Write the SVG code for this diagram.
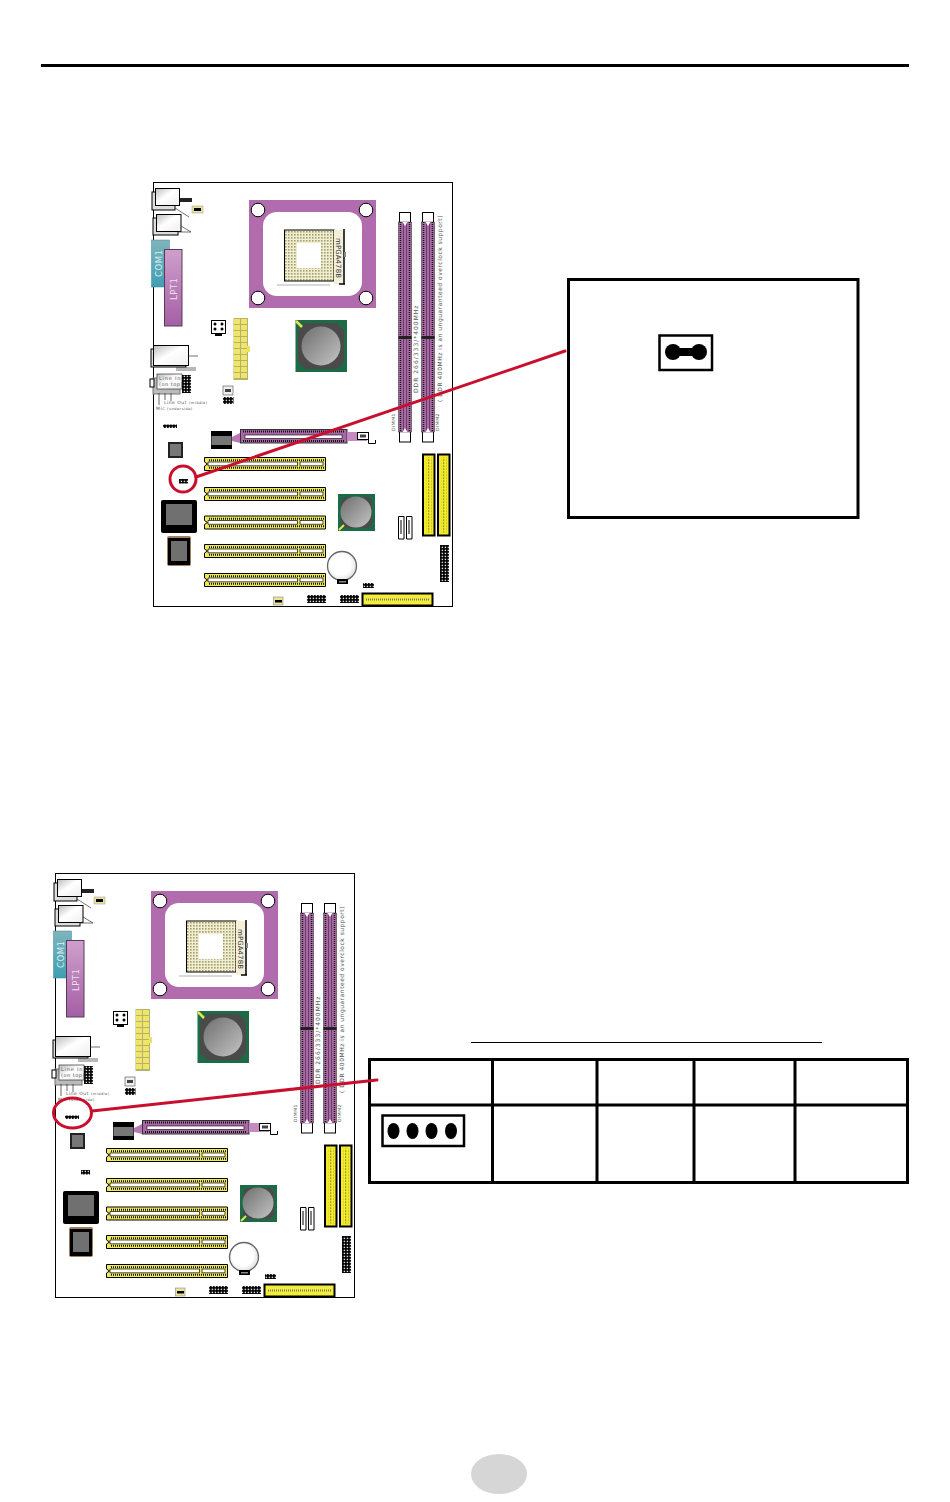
<svg xmlns="http://www.w3.org/2000/svg" width="950" height="1502" viewBox="0 0 950 1502">
<style>
.k{fill:#000}
.o{stroke:#000;stroke-width:1}
.w{fill:#fff}
.t{font-family:"DejaVu Sans",sans-serif;fill:#555;letter-spacing:.5px}
.pin{fill:none;stroke:#111;stroke-dasharray:1 1}
.red{fill:none;stroke:#c8102e;stroke-linecap:round}
.tb{fill:none;stroke:#000;stroke-width:3}
</style>
<defs>
<linearGradient id="com" x1="0" y1="0" x2="0" y2="1"><stop offset="0" stop-color="#7fb4bd"/><stop offset="1" stop-color="#3f9fb3"/></linearGradient>
<linearGradient id="lpt" x1="0" y1="0" x2="0" y2="1"><stop offset="0" stop-color="#cfa0cc"/><stop offset="1" stop-color="#a45fa4"/></linearGradient>
<linearGradient id="port" x1="0" y1="0" x2="1" y2="1"><stop offset="0" stop-color="#bbb"/><stop offset=".45" stop-color="#fff"/><stop offset="1" stop-color="#eee"/></linearGradient>
<linearGradient id="die" x1="0" y1="0" x2="1" y2="1"><stop offset="0" stop-color="#6e6e6e"/><stop offset="1" stop-color="#c4c4c4"/></linearGradient>
<radialGradient id="bat" cx=".45" cy=".45" r=".6"><stop offset=".6" stop-color="#fff"/><stop offset="1" stop-color="#d8d8d8"/></radialGradient>
<pattern id="pins" width="3" height="3" patternUnits="userSpaceOnUse"><rect width="3" height="3" fill="#f1edd0"/><rect width="1.6" height="1.6" fill="#a39f6e"/></pattern>
<pattern id="idep" width="3" height="3" patternUnits="userSpaceOnUse"><rect width="3" height="3" fill="#f5ee2c"/><rect width="1.300" height="1.300" fill="#77721c"/></pattern>
<pattern id="hdr" width="3" height="3" patternUnits="userSpaceOnUse"><rect width="3" height="3" fill="#000"/><rect x=".7" y=".7" width="1.4" height="1.4" fill="#ddd"/></pattern>

<g id="pci">
<path d="M.5.5H121.5V13.5H.5V9L3.5 7 .5 5Z" fill="#efe95a" stroke="#000"/>
<path class="pin" d="M5 3.2H120M5 10.8H120" stroke-width="2"/>
<path d="M4 5H93.5V8.800H4ZM96 5H119V8.800H96Z" fill="#fff" stroke="#000" stroke-width=".7"/>
</g>

<g id="dimm">
<rect x=".5" y=".5" width="11" height="229.5" class="w o"/>
<rect x="-.5" y="10" width="13" height="210" fill="#a76aa3" stroke="#222" stroke-width=".5"/>
<path d="M1.5 10V220M10.5 10V220" stroke="#111" stroke-width="1.5" stroke-dasharray="1 1"/>
<path d="M4.5 10V220M7.500 10V220" stroke="#6b3a6b" stroke-width="1"/>
<path d="M3.500 10 L6 14 8.500 10ZM3.500 220 L6 216 8.500 220Z" class="w"/>
<rect x="-.5" y="124" width="13" height="3" fill="#222"/>
</g>

<g id="ide">
<rect x="1" y="1" width="11.500" height="81" fill="#f2ea2b" stroke="#000" stroke-width="2"/>
<rect x="4" y="4" width="5.500" height="75" fill="url(#idep)"/>
</g>

<g id="board-art">
<rect x="153.500" y="182.500" width="299" height="424" fill="#fff" stroke="#000"/>
<rect x="152" y="192" width="23" height="18" fill="#ddd" stroke="#000"/>
<rect x="155.500" y="188.500" width="24" height="17" fill="url(#port)" stroke="#000"/>
<rect x="180" y="198" width="12" height="4" fill="#222"/>
<path d="M175 208L189 217" stroke="#333" stroke-width=".7"/>
<rect x="192" y="206" width="11" height="7" fill="#e8e29a" stroke="#999" stroke-width=".5"/>
<rect x="194" y="208" width="7" height="3" class="k"/>
<rect x="153" y="218" width="25" height="17" fill="#ddd" stroke="#000"/>
<rect x="156.500" y="214.500" width="24.500" height="17" fill="url(#port)" stroke="#000"/>
<path d="M178 232H191M181 226L191 232" stroke="#333" stroke-width=".7"/>
<rect x="151.500" y="240" width="18" height="47" fill="url(#com)" stroke="#3d8797" stroke-width=".5"/>
<rect x="164.500" y="249.500" width="17.500" height="76.500" fill="url(#lpt)" stroke="#5a3a5a"/>
<rect x="151" y="349" width="35" height="18" fill="#ddd" stroke="#000"/>
<rect x="153.500" y="345.500" width="35" height="20" fill="url(#port)" stroke="#000"/>
<path d="M188 356H198M176 368H196M176 370H196" stroke="#333" stroke-width=".7"/>
<rect x="153" y="378" width="27" height="16" fill="#bbb" stroke="#777"/>
<rect x="157" y="374" width="25" height="15" fill="url(#port)" stroke="#333" stroke-width=".7"/>
<rect x="150" y="379" width="4" height="8" fill="#fff" stroke="#000"/>
<rect x="182" y="375" width="9" height="18" fill="url(#hdr)"/>
<path d="M159 393V405M171 393V401M165 393V400" stroke="#222" stroke-width=".7"/>
<rect x="249" y="200" width="127" height="108" fill="#b06cad"/>
<rect x="263" y="212" width="99" height="84" rx="14" class="w"/>
<circle cx="258" cy="210" r="6.800" class="w o"/><circle cx="366" cy="210" r="6.800" class="w o"/>
<circle cx="258" cy="298" r="6.800" class="w o"/><circle cx="366" cy="298" r="6.800" class="w o"/>
<rect x="284.500" y="230" width="49.500" height="51" fill="url(#pins)" stroke="#000"/>
<rect x="297" y="243" width="24" height="25" class="w"/>
<path d="M334 230H344V284H334Z" fill="#f3efd8"/>
<path d="M344 229V284M339 284H345" stroke="#000" stroke-width="1.500"/>
<rect x="344" y="252" width="2" height="5" fill="#888"/>
<path d="M277 285H330" stroke="#ccc" stroke-width="1.500"/>
<rect x="295.500" y="320" width="51.500" height="52" fill="#1d6b46"/>
<path d="M305 323H337L344 331V362L337 369H305L298 362V331Z" fill="#4a4a4a"/>
<circle cx="321" cy="346" r="19.500" fill="url(#die)"/>
<path d="M296 321L302 327" stroke="#e6e64a" stroke-width="2.500"/>
<rect x="211.500" y="320.500" width="14" height="13" class="w o"/>
<rect x="215" y="334" width="7" height="2" class="k"/>
<g class="k"><circle cx="215" cy="324" r="1.500"/><circle cx="222" cy="324" r="1.500"/><circle cx="215" cy="329" r="1.500"/><circle cx="222" cy="329" r="1.500"/></g>
<rect x="233.500" y="318" width="14.500" height="62" fill="#b5b26e"/>
<path d="M234 319h6v5h-6zm7 0h6v5h-6zM234 325h6v5h-6zm7 0h6v5h-6zM234 331h6v5h-6zm7 0h6v5h-6zM234 337h6v5h-6zm7 0h6v5h-6zM234 343h6v5h-6zm7 0h6v5h-6zM234 349h6v5h-6zm7 0h6v5h-6zM234 355h6v5h-6zm7 0h6v5h-6zM234 361h6v5h-6zm7 0h6v5h-6zM234 367h6v5h-6zm7 0h6v5h-6zM234 373h6v5h-6zm7 0h6v5h-6z" fill="#eee56a"/>
<rect x="247" y="346" width="3" height="6" fill="#eee25a"/>
<rect x="223" y="386" width="10" height="9" fill="#eee" stroke="#666" stroke-width=".7"/>
<rect x="225" y="389" width="6" height="3" fill="#444"/>
<rect x="223" y="397" width="10.500" height="7" fill="url(#hdr)"/>
<use href="#dimm" x="399" y="212"/>
<use href="#dimm" x="422" y="212"/>
<rect x="163" y="424.500" width="14" height="3.500" fill="url(#hdr)"/>
<rect x="168" y="442" width="15" height="16" fill="#222"/>
<rect x="170" y="444" width="11" height="12" fill="#777"/>
<rect x="211" y="431" width="21" height="18" class="k"/>
<rect x="211.500" y="436" width="20" height="9" fill="#777"/>
<path d="M232 437L240 433V443L232 441Z" fill="#b878b2"/>
<rect x="240.500" y="429.500" width="106.500" height="13.500" fill="#a967a5" stroke="#333"/>
<path d="M243 431.500H345M243 441H345" fill="none" stroke="#111" stroke-dasharray="1 1" stroke-width="2"/>
<rect x="245" y="435" width="97" height="3.500" fill="#fff" stroke="#000" stroke-width=".6"/>
<rect x="347" y="432" width="20" height="9" fill="#c28cbf"/>
<rect x="357.500" y="432.500" width="11" height="7" class="w o"/>
<rect x="360" y="434.500" width="6" height="3" fill="#444"/>
<path d="M368.500 432V443.500H375.500V440" fill="#fff" stroke="#000"/>
<use href="#pci" x="204" y="457"/>
<use href="#pci" x="204" y="487"/>
<use href="#pci" x="204" y="515.500"/>
<use href="#pci" x="204" y="544"/>
<use href="#pci" x="204" y="573"/>
<rect x="161" y="500" width="36" height="33" rx="2" class="k"/>
<rect x="166" y="504" width="26" height="21" fill="#707070"/>
<rect x="167" y="536" width="24" height="30" rx="2" fill="#a08060"/>
<rect x="168" y="538" width="22" height="27" class="k"/>
<rect x="171" y="541" width="16" height="20" fill="#707070"/>
<rect x="338" y="494" width="37" height="37" fill="#1d6b46"/>
<path d="M345 497H368L372 501V524L368 528H345L341 524V501Z" fill="#4a4a4a"/>
<circle cx="356" cy="512" r="15.500" fill="url(#die)"/>
<path d="M339 530L344 525" stroke="#e6e64a" stroke-width="2"/>
<path d="M398.500 516.500h5.500v22.500h-5.500zM406.500 516.500h5.500v22.500h-5.500z" class="w o"/>
<path d="M401 520v14M409 520v14" stroke="#000"/>
<use href="#ide" x="422" y="453.500"/>
<use href="#ide" x="437" y="453.500"/>
<rect x="440" y="545" width="9" height="37" fill="url(#hdr)"/>
<circle cx="342" cy="566" r="14.500" fill="url(#bat)" stroke="#666" stroke-width="1.300"/>
<rect x="337" y="579" width="11" height="5" class="k"/>
<rect x="339" y="581" width="7" height="1.500" fill="#888"/>
<rect x="363" y="583" width="11" height="5" fill="url(#hdr)"/>
<rect x="362.500" y="593.500" width="70" height="12" fill="#f3ee3c" stroke="#000" stroke-width="2"/>
<path d="M366 599.500H429" fill="none" stroke="#777" stroke-dasharray="1 1" stroke-width="2"/>
<rect x="307" y="595" width="19" height="8" fill="url(#hdr)"/>
<rect x="340" y="595" width="19" height="8" fill="url(#hdr)"/>
<rect x="273.500" y="597" width="9.500" height="8" fill="#e8e29a" stroke="#777" stroke-width=".5"/>
<rect x="275" y="600" width="7" height="2.500" class="k"/>
</g>
</defs>

<rect x="41" y="64" width="868" height="3" class="k"/>

<g id="board-top">
<use href="#board-art"/>
<text class="t" transform="translate(161.500 277) rotate(-90)" font-size="8.500" style="fill:#d8eef2">COM1</text>
<text class="t" transform="translate(176.500 300) rotate(-90)" font-size="8.500" style="fill:#f1dff0">LPT1</text>
<text class="t" transform="translate(335.500 238) rotate(90)" font-size="7" textLength="40" style="fill:#333;letter-spacing:0">mPGA478B</text>
<text class="t" x="159" y="380" font-size="5" style="letter-spacing:.8px">Line In</text>
<text class="t" x="159" y="386" font-size="5">(on top)</text>
<text class="t" x="164" y="404" font-size="4.500">Line Out <tspan font-size="3.500">(middle)</tspan></text>
<text class="t" x="156" y="410" font-size="4.500">Mic <tspan font-size="3.500">(underside)</tspan></text>
<text class="t" transform="translate(418 393) rotate(-90)" font-size="6" textLength="88">DDR 266/333/*400MHz</text>
<text class="t" transform="translate(442 402) rotate(-90)" font-size="6" textLength="187">( DDR 400MHz is an unguaranteed overclock support)</text>
<text class="t" transform="translate(395 431) rotate(-90)" font-size="4.500">DIMM1</text>
<text class="t" transform="translate(439 431) rotate(-90)" font-size="4.500">DIMM2</text>
<rect x="179" y="479" width="9" height="4.500" fill="url(#hdr)"/>
</g>

<g id="board-bottom">
<use href="#board-art" x="-98" y="691"/>
<text class="t" transform="translate(63.500 968) rotate(-90)" font-size="8.500" style="fill:#d8eef2">COM1</text>
<text class="t" transform="translate(78.500 991) rotate(-90)" font-size="8.500" style="fill:#f1dff0">LPT1</text>
<text class="t" transform="translate(237.500 929) rotate(90)" font-size="7" textLength="40" style="fill:#333;letter-spacing:0">mPGA478B</text>
<text class="t" x="61" y="1071" font-size="5" style="letter-spacing:.8px">Line In</text>
<text class="t" x="61" y="1077" font-size="5">(on top)</text>
<text class="t" x="66" y="1095" font-size="4.500">Line Out <tspan font-size="3.500">(middle)</tspan></text>
<text class="t" x="58" y="1101" font-size="4.500">Mic <tspan font-size="3.500">(underside)</tspan></text>
<text class="t" transform="translate(320 1084) rotate(-90)" font-size="6" textLength="88">DDR 266/333/*400MHz</text>
<text class="t" transform="translate(344 1093) rotate(-90)" font-size="6" textLength="187">( DDR 400MHz is an unguaranteed overclock support)</text>
<text class="t" transform="translate(297 1122) rotate(-90)" font-size="4.500">DIMM1</text>
<text class="t" transform="translate(341 1122) rotate(-90)" font-size="4.500">DIMM2</text>
<rect x="81" y="1170" width="9" height="4.500" fill="url(#hdr)"/>
</g>

<g id="jumper-callout">
<rect x="568.500" y="279.500" width="289.500" height="238" fill="#fff" stroke="#000" stroke-width="3"/>
<rect x="659.500" y="335.500" width="52.500" height="34.500" fill="#fff" stroke="#000" stroke-width="2.500"/>
<circle cx="673" cy="352" r="8" class="k"/><circle cx="699" cy="352" r="8" class="k"/>
<rect x="673" y="348" width="26" height="8" class="k"/>
</g>

<g id="header-table">
<path d="M471 1042.500H822" stroke="#000" stroke-width="1.200"/>
<rect x="369.500" y="1059.500" width="538" height="123" class="tb"/>
<path d="M369 1105H908M492.500 1059V1183M597 1059V1183M694 1059V1183M795 1059V1183" class="tb"/>
<rect x="382.500" y="1115.500" width="81.500" height="30.500" fill="#fff" stroke="#000" stroke-width="2.500"/>
<g class="k"><ellipse cx="393.500" cy="1131" rx="6" ry="8"/><ellipse cx="412.500" cy="1131" rx="6" ry="8"/><ellipse cx="431.500" cy="1131" rx="6" ry="8"/><ellipse cx="451" cy="1131" rx="6" ry="8"/></g>
</g>

<g id="connectors">
<ellipse cx="183" cy="479" rx="13" ry="13" class="red" stroke-width="3"/>
<path d="M196 477L565 351" class="red" stroke-width="3"/>
<ellipse cx="72.500" cy="1113" rx="19" ry="15" class="red" stroke-width="3"/>
<path d="M92 1111L377 1080" class="red" stroke-width="3"/>
</g>

<ellipse id="page-badge" cx="499" cy="1474" rx="28" ry="20" fill="#d6d6d6"/>
</svg>
